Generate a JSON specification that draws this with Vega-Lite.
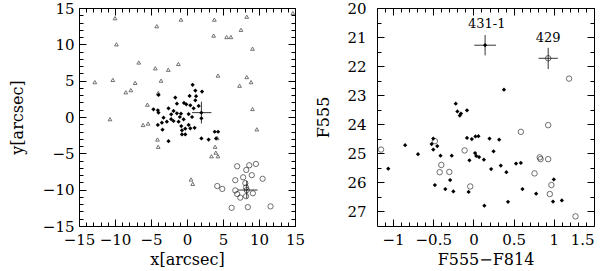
{
  "$schema": "https://vega.github.io/schema/vega-lite/v6.json",
  "background": "white",
  "padding": {"left": 8, "top": 0, "right": 0, "bottom": 2},
  "spacing": 82,
  "bounds": "flush",
  "config": {
    "view": {"stroke": "black", "strokeWidth": 1},
    "axis": {
      "domain": false, "grid": false, "ticks": true, "tickColor": "black", "tickWidth": 1,
      "labelColor": "black", "titleColor": "black",
      "labelFont": "DejaVu Serif", "titleFont": "DejaVu Serif",
      "labelFontSize": 15, "titleFontSize": 16, "titleFontWeight": "normal",
      "labelOverlap": false, "labelFlush": false
    }
  },
  "datasets": {
    "tri": [
      {"x": -10.0, "y": 13.6}, {"x": -0.84, "y": 13.4}, {"x": 3.8, "y": 13.4}, {"x": 8.3, "y": 13.8},
      {"x": 14.7, "y": 14.3}, {"x": -4.2, "y": 12.5}, {"x": 7.5, "y": 12.0}, {"x": 3.7, "y": 11.2},
      {"x": 5.5, "y": 11.0}, {"x": 6.1, "y": 11.0}, {"x": -9.8, "y": 10.0}, {"x": 9.1, "y": 9.4},
      {"x": -6.7, "y": 7.5}, {"x": -1.2, "y": 7.3}, {"x": -4.4, "y": 6.7}, {"x": -2.6, "y": 6.5},
      {"x": 4.3, "y": 5.7}, {"x": 8.3, "y": 5.5}, {"x": -12.8, "y": 4.8}, {"x": -10.3, "y": 5.1},
      {"x": -7.2, "y": 4.7}, {"x": -3.6, "y": 5.0}, {"x": 8.9, "y": 4.8}, {"x": 7.3, "y": 4.3},
      {"x": -8.5, "y": 3.4}, {"x": -7.8, "y": 3.7}, {"x": -4.0, "y": 3.3}, {"x": -5.5, "y": 1.7},
      {"x": 9.1, "y": 1.1}, {"x": -10.7, "y": -0.3}, {"x": -6.1, "y": -1.1}, {"x": -5.4, "y": -0.9},
      {"x": 9.7, "y": -1.7}, {"x": -4.1, "y": -3.1}, {"x": -4.0, "y": -4.1}, {"x": 4.2, "y": -2.9},
      {"x": 3.9, "y": -4.1}, {"x": 4.0, "y": -4.9}, {"x": 3.4, "y": -5.4}, {"x": 4.3, "y": -5.4},
      {"x": 0.56, "y": -8.6}, {"x": 0.8, "y": -9.2}
    ],
    "dot": [
      {"x": 0.78, "y": 4.43}, {"x": 1.16, "y": 3.64}, {"x": 2.09, "y": 3.5}, {"x": 0.36, "y": 2.9},
      {"x": 1.26, "y": 2.86}, {"x": -3.96, "y": 3.04}, {"x": -1.63, "y": 2.67}, {"x": 1.16, "y": 2.3},
      {"x": -0.42, "y": 1.94}, {"x": -0.1, "y": 1.75}, {"x": 0.46, "y": 1.6}, {"x": -1.4, "y": 1.84},
      {"x": 1.62, "y": 1.52}, {"x": 0.92, "y": 1.2}, {"x": -4.66, "y": 1.06}, {"x": -4.05, "y": 0.92},
      {"x": -2.57, "y": 1.2}, {"x": -1.87, "y": 0.83}, {"x": -1.4, "y": 0.5}, {"x": -0.84, "y": 0.46},
      {"x": -2.19, "y": 0.37}, {"x": 0.23, "y": 0.41}, {"x": 2.0, "y": 0.6}, {"x": -3.96, "y": 0.6},
      {"x": -3.26, "y": -0.09}, {"x": -0.47, "y": -0.32}, {"x": 0.7, "y": 0.0}, {"x": -1.87, "y": -0.55},
      {"x": -3.49, "y": -0.78}, {"x": -2.8, "y": -0.65}, {"x": -1.17, "y": -0.65}, {"x": 2.0, "y": -0.18},
      {"x": -4.05, "y": -1.1}, {"x": 0.23, "y": -1.1}, {"x": -3.4, "y": -1.75}, {"x": -0.8, "y": -1.24},
      {"x": -0.24, "y": -1.6}, {"x": 0.46, "y": -1.56}, {"x": 1.06, "y": -1.48}, {"x": -0.7, "y": -1.84},
      {"x": -0.7, "y": -2.4}, {"x": -0.24, "y": -2.4}, {"x": -2.57, "y": -3.32}, {"x": 2.0, "y": -2.95},
      {"x": 3.0, "y": -3.1}, {"x": 3.85, "y": -2.03}, {"x": 4.32, "y": -2.03}, {"x": 4.04, "y": -2.95},
      {"x": -1.0, "y": 0.0}, {"x": -2.2, "y": -0.3}
    ],
    "circ": [
      {"x": 6.97, "y": -6.78}, {"x": 8.65, "y": -6.64}, {"x": 9.57, "y": -6.46}, {"x": 8.23, "y": -7.29},
      {"x": 9.0, "y": -8.0}, {"x": 7.8, "y": -8.3}, {"x": 6.7, "y": -8.7}, {"x": 10.5, "y": -8.5},
      {"x": 8.1, "y": -9.1}, {"x": 8.2, "y": -9.7}, {"x": 4.2, "y": -9.5}, {"x": 4.9, "y": -9.9},
      {"x": 6.7, "y": -10.1}, {"x": 8.3, "y": -10.05}, {"x": 6.97, "y": -10.6}, {"x": 7.4, "y": -11.1},
      {"x": 8.2, "y": -10.9}, {"x": 9.15, "y": -10.5}, {"x": 8.45, "y": -12.4}, {"x": 6.2, "y": -12.5},
      {"x": 11.6, "y": -12.3}
    ],
    "crossL": [
      {"x": 2.0, "y": 0.6, "xlo": 0.7, "xhi": 3.4, "ylo": -0.9, "yhi": 2.1},
      {"x": 8.3, "y": -10.05, "xlo": 7.1, "xhi": 9.8, "ylo": -11.2, "yhi": -8.8}
    ],
    "dotR": [
      {"x": 0.145, "y": 21.28}, {"x": 0.38, "y": 22.81}, {"x": -0.22, "y": 23.29}, {"x": -0.2, "y": 23.56},
      {"x": -0.17, "y": 23.7}, {"x": -0.155, "y": 23.63}, {"x": -0.08, "y": 23.52},
      {"x": -0.85, "y": 24.72}, {"x": -0.69, "y": 25.03}, {"x": -1.06, "y": 25.53},
      {"x": -0.5, "y": 24.49}, {"x": -0.52, "y": 24.68}, {"x": -0.45, "y": 24.75}, {"x": -0.5, "y": 24.87},
      {"x": -0.41, "y": 25.08}, {"x": -0.27, "y": 25.08}, {"x": -0.08, "y": 24.47}, {"x": -0.02, "y": 24.51},
      {"x": 0.025, "y": 24.42}, {"x": 0.062, "y": 24.41}, {"x": 0.2, "y": 24.49}, {"x": 0.32, "y": 24.53},
      {"x": -0.05, "y": 25.24}, {"x": 0.02, "y": 24.99}, {"x": 0.035, "y": 25.09}, {"x": 0.07, "y": 25.13},
      {"x": 0.13, "y": 25.22}, {"x": 0.25, "y": 24.93}, {"x": 0.22, "y": 25.54}, {"x": 0.34, "y": 25.42},
      {"x": 0.41, "y": 25.65}, {"x": 0.53, "y": 25.35}, {"x": 0.59, "y": 25.33},
      {"x": -0.48, "y": 26.09}, {"x": -0.29, "y": 25.92}, {"x": -0.35, "y": 26.23}, {"x": -0.25, "y": 26.31},
      {"x": -0.06, "y": 26.33}, {"x": 0.136, "y": 26.8}, {"x": 0.43, "y": 26.67}, {"x": 0.61, "y": 26.23},
      {"x": 0.78, "y": 26.39}, {"x": 1.0, "y": 25.9}, {"x": 0.99, "y": 26.66}, {"x": 1.1, "y": 26.62}
    ],
    "circR": [
      {"x": 0.93, "y": 21.73}, {"x": 1.19, "y": 22.43}, {"x": 0.93, "y": 24.03}, {"x": 0.59, "y": 24.26},
      {"x": -1.15, "y": 24.87}, {"x": -0.48, "y": 24.58}, {"x": -0.11, "y": 24.9}, {"x": 0.825, "y": 25.14},
      {"x": 0.835, "y": 25.2}, {"x": 0.93, "y": 25.2}, {"x": -0.4, "y": 25.4}, {"x": -0.42, "y": 25.65},
      {"x": -0.3, "y": 25.64}, {"x": 0.76, "y": 25.69}, {"x": -0.04, "y": 26.14}, {"x": 0.97, "y": 26.09},
      {"x": 0.95, "y": 26.4}, {"x": 1.27, "y": 27.17}
    ],
    "crossR": [
      {"x": 0.145, "y": 21.28, "xlo": 0.01, "xhi": 0.28, "ylo": 20.93, "yhi": 21.63},
      {"x": 0.93, "y": 21.73, "xlo": 0.81, "xhi": 1.05, "ylo": 21.37, "yhi": 22.1}
    ],
    "labR": [
      {"x": 0.165, "y": 20.55, "label": "431-1"},
      {"x": 0.93, "y": 21.04, "label": "429"}
    ]
  },
  "hconcat": [
    {
      "width": 216, "height": 218,
      "resolve": {"axis": {"x": "independent", "y": "independent"}},
      "layer": [
        {
          "data": {"name": "tri"},
          "mark": {"type": "point", "shape": "triangle-up", "size": 14, "filled": false, "stroke": "#222", "strokeWidth": 0.9},
          "encoding": {
            "x": {"field": "x", "type": "quantitative", "scale": {"domain": [-15, 15], "nice": false, "zero": false},
              "axis": {"orient": "bottom", "values": [-15, -10, -5, 0, 5, 10, 15], "tickSize": 7, "offset": -7, "labelPadding": 6, "title": "x[arcsec]", "titlePadding": 4}},
            "y": {"field": "y", "type": "quantitative", "scale": {"domain": [-15, 15], "nice": false, "zero": false},
              "axis": {"orient": "left", "values": [-15, -10, -5, 0, 5, 10, 15], "tickSize": 7, "offset": -7, "labelPadding": 5, "title": "y[arcsec]", "titlePadding": 17}}
          }
        },
        {
          "data": {"name": "dot"},
          "mark": {"type": "point", "shape": "diamond", "size": 18, "filled": true, "color": "black", "opacity": 1},
          "encoding": {
            "x": {"field": "x", "type": "quantitative", "scale": {"domain": [-15, 15], "nice": false, "zero": false},
              "axis": {"orient": "bottom", "values": [-14, -13, -12, -11, -9, -8, -7, -6, -4, -3, -2, -1, 1, 2, 3, 4, 6, 7, 8, 9, 11, 12, 13, 14], "tickSize": 4, "offset": -4, "labels": false, "title": null}},
            "y": {"field": "y", "type": "quantitative", "scale": {"domain": [-15, 15], "nice": false, "zero": false},
              "axis": {"orient": "left", "values": [-14, -13, -12, -11, -9, -8, -7, -6, -4, -3, -2, -1, 1, 2, 3, 4, 6, 7, 8, 9, 11, 12, 13, 14], "tickSize": 4, "offset": -4, "labels": false, "title": null}}
          }
        },
        {
          "data": {"name": "circ"},
          "mark": {"type": "point", "shape": "circle", "size": 28, "filled": false, "stroke": "black", "strokeWidth": 0.8},
          "encoding": {
            "x": {"field": "x", "type": "quantitative", "scale": {"domain": [-15, 15], "nice": false, "zero": false},
              "axis": {"orient": "top", "values": [-15, -10, -5, 0, 5, 10, 15], "tickSize": 7, "offset": -7, "labels": false, "title": null}},
            "y": {"field": "y", "type": "quantitative", "scale": {"domain": [-15, 15], "nice": false, "zero": false},
              "axis": {"orient": "right", "values": [-15, -10, -5, 0, 5, 10, 15], "tickSize": 7, "offset": -7, "labels": false, "title": null}}
          }
        },
        {
          "data": {"name": "crossL"},
          "mark": {"type": "rule", "color": "black", "strokeWidth": 0.8},
          "encoding": {
            "x": {"field": "xlo", "type": "quantitative", "scale": {"domain": [-15, 15], "nice": false, "zero": false},
              "axis": {"orient": "top", "values": [-14, -13, -12, -11, -9, -8, -7, -6, -4, -3, -2, -1, 1, 2, 3, 4, 6, 7, 8, 9, 11, 12, 13, 14], "tickSize": 4, "offset": -4, "labels": false, "title": null}},
            "x2": {"field": "xhi"},
            "y": {"field": "y", "type": "quantitative", "scale": {"domain": [-15, 15], "nice": false, "zero": false},
              "axis": {"orient": "right", "values": [-14, -13, -12, -11, -9, -8, -7, -6, -4, -3, -2, -1, 1, 2, 3, 4, 6, 7, 8, 9, 11, 12, 13, 14], "tickSize": 4, "offset": -4, "labels": false, "title": null}}
          }
        },
        {
          "data": {"name": "crossL"},
          "mark": {"type": "rule", "color": "black", "strokeWidth": 0.8},
          "encoding": {
            "x": {"field": "x", "type": "quantitative", "scale": {"domain": [-15, 15], "nice": false, "zero": false}, "axis": null},
            "y": {"field": "ylo", "type": "quantitative", "scale": {"domain": [-15, 15], "nice": false, "zero": false}, "axis": null},
            "y2": {"field": "yhi"}
          }
        }
      ]
    },
    {
      "width": 217, "height": 218,
      "resolve": {"axis": {"x": "independent", "y": "independent"}},
      "layer": [
        {
          "data": {"name": "dotR"},
          "mark": {"type": "point", "shape": "diamond", "size": 18, "filled": true, "color": "black", "opacity": 1},
          "encoding": {
            "x": {"field": "x", "type": "quantitative", "scale": {"domain": [-1.2, 1.5], "nice": false, "zero": false},
              "axis": {"orient": "bottom", "values": [-1, -0.5, 0, 0.5, 1, 1.5], "tickSize": 7, "offset": -7, "labelPadding": 6, "labelFlush": 2, "labelExpr": "format(datum.value, '~g')", "title": "F555−F814", "titlePadding": 4}},
            "y": {"field": "y", "type": "quantitative", "scale": {"domain": [20, 27.5], "reverse": true, "nice": false, "zero": false},
              "axis": {"orient": "left", "values": [20, 21, 22, 23, 24, 25, 26, 27], "tickSize": 7, "offset": -7, "labelPadding": 11, "title": "F555", "titlePadding": 15}}
          }
        },
        {
          "data": {"name": "circR"},
          "mark": {"type": "point", "shape": "circle", "size": 30, "filled": false, "stroke": "black", "strokeWidth": 0.8},
          "encoding": {
            "x": {"field": "x", "type": "quantitative", "scale": {"domain": [-1.2, 1.5], "nice": false, "zero": false},
              "axis": {"orient": "bottom", "values": [-1.1, -0.9, -0.8, -0.7, -0.6, -0.4, -0.3, -0.2, -0.1, 0.1, 0.2, 0.3, 0.4, 0.6, 0.7, 0.8, 0.9, 1.1, 1.2, 1.3, 1.4], "tickSize": 4, "offset": -4, "labels": false, "title": null}},
            "y": {"field": "y", "type": "quantitative", "scale": {"domain": [20, 27.5], "reverse": true, "nice": false, "zero": false},
              "axis": {"orient": "left", "values": [20.5, 21.5, 22.5, 23.5, 24.5, 25.5, 26.5], "tickSize": 4, "offset": -4, "labels": false, "title": null}}
          }
        },
        {
          "data": {"name": "crossR"},
          "mark": {"type": "rule", "color": "black", "strokeWidth": 0.8},
          "encoding": {
            "x": {"field": "xlo", "type": "quantitative", "scale": {"domain": [-1.2, 1.5], "nice": false, "zero": false},
              "axis": {"orient": "top", "values": [-1, -0.5, 0, 0.5, 1, 1.5], "tickSize": 7, "offset": -7, "labels": false, "title": null}},
            "x2": {"field": "xhi"},
            "y": {"field": "y", "type": "quantitative", "scale": {"domain": [20, 27.5], "reverse": true, "nice": false, "zero": false},
              "axis": {"orient": "right", "values": [20, 21, 22, 23, 24, 25, 26, 27], "tickSize": 7, "offset": -7, "labels": false, "title": null}}
          }
        },
        {
          "data": {"name": "crossR"},
          "mark": {"type": "rule", "color": "black", "strokeWidth": 0.8},
          "encoding": {
            "x": {"field": "x", "type": "quantitative", "scale": {"domain": [-1.2, 1.5], "nice": false, "zero": false},
              "axis": {"orient": "top", "values": [-1.1, -0.9, -0.8, -0.7, -0.6, -0.4, -0.3, -0.2, -0.1, 0.1, 0.2, 0.3, 0.4, 0.6, 0.7, 0.8, 0.9, 1.1, 1.2, 1.3, 1.4], "tickSize": 4, "offset": -4, "labels": false, "title": null}},
            "y": {"field": "ylo", "type": "quantitative", "scale": {"domain": [20, 27.5], "reverse": true, "nice": false, "zero": false},
              "axis": {"orient": "right", "values": [20.5, 21.5, 22.5, 23.5, 24.5, 25.5, 26.5], "tickSize": 4, "offset": -4, "labels": false, "title": null}},
            "y2": {"field": "yhi"}
          }
        },
        {
          "data": {"name": "labR"},
          "mark": {"type": "text", "font": "DejaVu Serif", "fontSize": 13, "color": "black", "baseline": "middle", "align": "center"},
          "encoding": {
            "x": {"field": "x", "type": "quantitative", "scale": {"domain": [-1.2, 1.5], "nice": false, "zero": false}, "axis": null},
            "y": {"field": "y", "type": "quantitative", "scale": {"domain": [20, 27.5], "reverse": true, "nice": false, "zero": false}, "axis": null},
            "text": {"field": "label"}
          }
        }
      ]
    }
  ]
}
